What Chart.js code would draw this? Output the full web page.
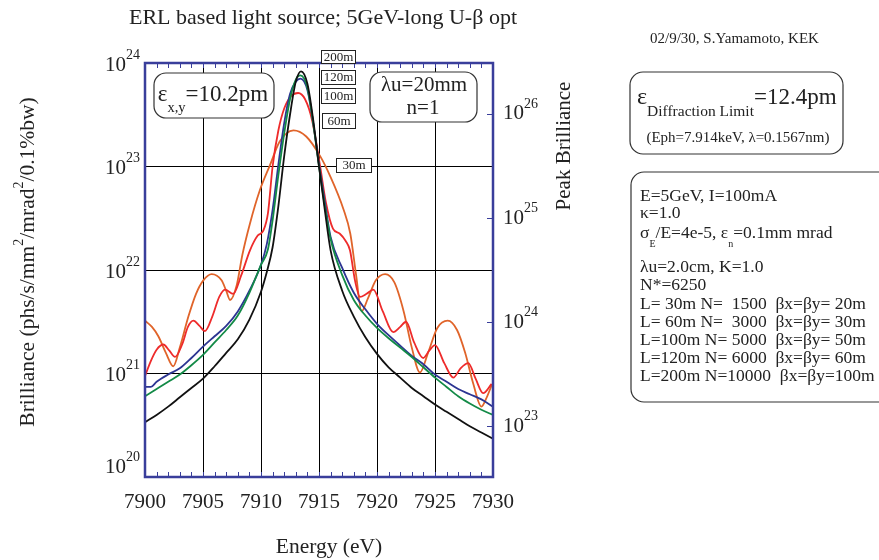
<!DOCTYPE html>
<html>
<head>
<meta charset="utf-8">
<script src="https://cdn.jsdelivr.net/npm/chart.js@4.4.0/dist/chart.umd.min.js"></script>
<style>
  html, body { margin: 0; padding: 0; background: #fff; }
  canvas { display: block; }
</style>
</head>
<body>
<canvas id="chart" width="879" height="560"></canvas>
<script>
// photon energy (eV) and log10(brilliance)
const e200 = [7900, 7901, 7902, 7903, 7904, 7905, 7906, 7907, 7908, 7909, 7910, 7910.5, 7911, 7911.5, 7912, 7912.5, 7913, 7913.45, 7914, 7914.5, 7915, 7915.5, 7916, 7917, 7918, 7919, 7920, 7921, 7922, 7923, 7924, 7925, 7926, 7927, 7928, 7929, 7930];
const b200 = [20.53, 20.60, 20.68, 20.77, 20.86, 20.95, 21.07, 21.20, 21.33, 21.52, 21.79, 21.98, 22.22, 22.62, 23.10, 23.50, 23.82, 23.92, 23.80, 23.45, 23.00, 22.58, 22.19, 21.80, 21.55, 21.35, 21.19, 21.06, 20.96, 20.86, 20.78, 20.70, 20.63, 20.56, 20.49, 20.43, 20.37];

const e120 = [7900, 7901, 7902, 7903, 7904, 7905, 7906, 7907, 7908, 7909, 7910, 7910.6, 7911, 7911.5, 7912, 7912.5, 7913, 7913.4, 7914, 7914.5, 7915, 7915.5, 7916, 7917, 7918, 7919, 7920, 7921, 7922, 7923, 7924, 7925, 7926, 7927, 7928, 7929, 7930];
const b120 = [20.78, 20.85, 20.92, 20.99, 21.08, 21.18, 21.30, 21.42, 21.56, 21.78, 22.05, 22.20, 22.48, 22.92, 23.32, 23.65, 23.84, 23.88, 23.76, 23.42, 23.00, 22.62, 22.30, 21.95, 21.71, 21.56, 21.44, 21.34, 21.25, 21.16, 21.06, 20.96, 20.87, 20.78, 20.71, 20.65, 20.60];

const e100 = [7900, 7900.5, 7901, 7902, 7903, 7904, 7905, 7906, 7907, 7908, 7909, 7910, 7910.5, 7911, 7911.5, 7912, 7912.5, 7913, 7913.4, 7914, 7914.5, 7915, 7915.5, 7916, 7917, 7918, 7919, 7920, 7921, 7922, 7923, 7924, 7925, 7926, 7927, 7928, 7929, 7930];
const b100 = [20.87, 20.87, 20.92, 20.99, 21.05, 21.15, 21.26, 21.36, 21.46, 21.60, 21.80, 22.05, 22.25, 22.58, 23.02, 23.42, 23.70, 23.82, 23.85, 23.74, 23.42, 23.02, 22.66, 22.32, 22.02, 21.78, 21.62, 21.48, 21.37, 21.27, 21.17, 21.09, 20.99, 20.92, 20.85, 20.80, 20.75, 20.68];

const e60 = [7900, 7900.5, 7901, 7901.58, 7902.1, 7902.59, 7903.2, 7903.7, 7904.17, 7904.7, 7905.17, 7905.8, 7906.4, 7906.9, 7907.6, 7908.3, 7909.05, 7909.7, 7910.2, 7910.6, 7911, 7911.5, 7912, 7912.6, 7913.2, 7913.8, 7914.4, 7915.1, 7915.6, 7916.2, 7916.8, 7917.3, 7917.67, 7918.1, 7918.53, 7919.1, 7919.68, 7920.5, 7921.4, 7922, 7922.5, 7923.2, 7923.98, 7924.5, 7925, 7925.8, 7926.58, 7927.2, 7927.87, 7928.5, 7929.15, 7929.88];
const b60 = [20.975, 21.12, 21.23, 21.28, 21.22, 21.16, 21.28, 21.45, 21.51, 21.46, 21.41, 21.55, 21.74, 21.81, 21.77, 21.95, 22.19, 22.33, 22.38, 22.55, 23.00, 23.35, 23.56, 23.68, 23.71, 23.65, 23.45, 23.00, 22.65, 22.40, 22.35, 22.28, 22.19, 21.90, 21.74, 21.77, 21.81, 21.60, 21.40, 21.45, 21.50, 21.30, 21.15, 21.22, 21.275, 21.10, 20.96, 21.05, 21.10, 20.95, 20.81, 20.90];

const e30 = [7900, 7900.6, 7901.15, 7901.8, 7902.44, 7903, 7903.74, 7904.4, 7905.03, 7905.75, 7906.6, 7907, 7907.33, 7907.9, 7908.4, 7909.05, 7909.9, 7910.8, 7911.6, 7912.8, 7913.9, 7915.1, 7915.95, 7917.1, 7917.7, 7918.2, 7918.67, 7919.2, 7919.9, 7920.7, 7921.5, 7922.3, 7923, 7923.7, 7924.4, 7925.2, 7926.1, 7926.9, 7927.6, 7928.3, 7929, 7929.5, 7929.9];
const b30 = [21.51, 21.45, 21.36, 21.20, 21.07, 21.25, 21.55, 21.77, 21.90, 21.96, 21.90, 21.80, 21.71, 21.85, 22.15, 22.45, 22.77, 23.02, 23.24, 23.35, 23.29, 23.10, 22.91, 22.59, 22.35, 21.95, 21.60, 21.72, 21.90, 21.96, 21.88, 21.60, 21.25, 21.01, 21.20, 21.44, 21.51, 21.42, 21.20, 20.90, 20.68, 20.78, 20.89];

const lengthLabels = ['200m', '120m', '100m', '60m', '30m'];
const energyTicks = [7900, 7905, 7910, 7915, 7920, 7925, 7930];
const brillianceTicks = [1e20, 1e21, 1e22, 1e23, 1e24];
const peakTicks = [1e23, 1e24, 1e25, 1e26];

const FONT = '"Liberation Serif", "Times New Roman", serif';
const FRAME = '#393e9b';

const series = [
  { e: e200, b: b200, color: '#111111' },
  { e: e120, b: b120, color: '#138a47' },
  { e: e100, b: b100, color: '#2c3592' },
  { e: e60, b: b60, color: '#ee2b2b' },
  { e: e30, b: b30, color: '#e0642a' }
];

// text made of pieces: [text, size, dy]
function rich(ctx, parts, x, y, align) {
  let w = 0;
  parts.forEach(p => { ctx.font = p[1] + 'px ' + FONT; w += ctx.measureText(p[0]).width; });
  let cx = align === 'center' ? x - w / 2 : (align === 'right' ? x - w : x);
  ctx.textAlign = 'left';
  ctx.textBaseline = 'middle';
  parts.forEach(p => {
    ctx.font = p[1] + 'px ' + FONT;
    ctx.fillText(p[0], cx, y + (p[2] || 0));
    cx += ctx.measureText(p[0]).width;
  });
}

function roundBox(ctx, x0, y0, x1, y1, r) {
  ctx.beginPath();
  ctx.moveTo(x0 + r, y0);
  ctx.arcTo(x1, y0, x1, y1, r);
  ctx.arcTo(x1, y1, x0, y1, r);
  ctx.arcTo(x0, y1, x0, y0, r);
  ctx.arcTo(x0, y0, x1, y0, r);
  ctx.closePath();
  ctx.fillStyle = '#fff';
  ctx.fill();
  ctx.strokeStyle = '#333';
  ctx.lineWidth = 1.2;
  ctx.stroke();
}

function tagBox(ctx, text, x0, y0, x1, y1) {
  ctx.fillStyle = '#fff';
  ctx.fillRect(x0, y0, x1 - x0, y1 - y0);
  ctx.strokeStyle = '#222';
  ctx.lineWidth = 1;
  ctx.strokeRect(x0 + 0.5, y0 + 0.5, x1 - x0, y1 - y0);
  ctx.fillStyle = '#222';
  ctx.font = '13px ' + FONT;
  ctx.textAlign = 'center';
  ctx.textBaseline = 'middle';
  ctx.fillText(text, (x0 + x1) / 2 + 0.5, (y0 + y1) / 2 + 1);
}

const decor = {
  id: 'decor',
  afterDraw(chart) {
    const { ctx, chartArea: a, scales } = chart;
    const x = scales.x, y = scales.y, y2 = scales.y2;
    ctx.save();

    // minor ticks along top and bottom, 1 eV apart
    ctx.strokeStyle = FRAME;
    ctx.lineWidth = 1;
    ctx.beginPath();
    for (let v = 7901; v < 7930; v++) {
      const px = Math.round(x.getPixelForValue(v)) + 0.5;
      ctx.moveTo(px, a.top); ctx.lineTo(px, a.top + 5);
      ctx.moveTo(px, a.bottom); ctx.lineTo(px, a.bottom - 5);
    }
    peakTicks.forEach(v => {
      const py = Math.round(y2.getPixelForValue(v)) + 0.5;
      ctx.moveTo(a.right - 6, py); ctx.lineTo(a.right, py);
    });
    ctx.stroke();

    ctx.lineWidth = 2.5;
    ctx.strokeRect(a.left, a.top, a.right - a.left, a.bottom - a.top);

    ctx.fillStyle = '#222';
    // left tick labels
    brillianceTicks.forEach(v => {
      let py = y.getPixelForValue(v) + 2;
      if (v === brillianceTicks[0]) py -= 12;
      rich(ctx, [['10', 21], [String(Math.round(Math.log10(v))), 14, -10]], 140, py, 'right');
    });
    // right tick labels
    peakTicks.forEach(v => {
      const py = y2.getPixelForValue(v);
      rich(ctx, [['10', 21], [String(Math.round(Math.log10(v))), 14, -10]], 503, py, 'left');
    });
    // bottom tick labels
    ctx.font = '21px ' + FONT;
    ctx.textAlign = 'center';
    ctx.textBaseline = 'middle';
    energyTicks.forEach(v => ctx.fillText(String(v), x.getPixelForValue(v), 502));

    // titles
    ctx.font = '21.5px ' + FONT;
    ctx.fillText('Energy (eV)', 329, 547);
    ctx.font = '22px ' + FONT;
    ctx.fillText('ERL based light source; 5GeV-long U-\u03b2 opt', 323, 18);
    ctx.save();
    ctx.translate(28, 262);
    ctx.rotate(-Math.PI / 2);
    rich(ctx, [['Brilliance (phs/s/mm', 21.5], ['2', 14, -9], ['/mrad', 21.5], ['2', 14, -9], ['/0.1%bw)', 21.5]], 0, 0, 'center');
    ctx.restore();
    ctx.save();
    ctx.translate(564, 146);
    ctx.rotate(-Math.PI / 2);
    ctx.font = '21px ' + FONT;
    ctx.textAlign = 'center';
    ctx.fillText('Peak Brilliance', 0, 0);
    ctx.restore();

    ctx.font = '15px ' + FONT;
    ctx.textAlign = 'left';
    ctx.fillText('02/9/30, S.Yamamoto, KEK', 650, 39);

    // boxes inside the plot
    roundBox(ctx, 154, 73, 274, 118, 12);
    ctx.fillStyle = '#222';
    rich(ctx, [['\u03b5', 23], ['x,y', 14.5, 13], ['=10.2pm', 23]], 213, 95, 'center');

    roundBox(ctx, 370, 72, 477, 122, 12);
    ctx.fillStyle = '#222';
    rich(ctx, [['\u03bbu=20mm', 21]], 424, 85, 'center');
    rich(ctx, [['n=1', 21]], 423, 108, 'center');

    const tags = [[321, 50, 355, 63], [321, 70, 355, 84], [321, 88, 355, 103], [322, 113, 355, 128], [336, 158, 371, 172]];
    lengthLabels.forEach((t, i) => tagBox(ctx, t, ...tags[i]));

    // diffraction limit box
    roundBox(ctx, 630, 72, 843, 154, 13);
    ctx.fillStyle = '#222';
    rich(ctx, [['\u03b5', 24], ['Diffraction Limit', 15.5, 14], ['=12.4pm', 23]], 637, 98, 'left');
    rich(ctx, [['(Eph=7.914keV, \u03bb=0.1567nm)', 15]], 738, 138, 'center');

    // parameter box
    roundBox(ctx, 631, 172, 895, 402, 13);
    ctx.fillStyle = '#222';
    const lx = 640, fs = 17.5;
    rich(ctx, [['E=5GeV, I=100mA', fs]], lx, 196, 'left');
    rich(ctx, [['\u03ba=1.0', fs]], lx, 213, 'left');
    rich(ctx, [['\u03c3', fs], ['E', 10, 11], ['/E=4e-5, \u03b5', fs], ['n', 10, 11], ['=0.1mm mrad', fs]], lx, 233, 'left');
    rich(ctx, [['\u03bbu=2.0cm, K=1.0', fs]], lx, 267, 'left');
    rich(ctx, [['N*=6250', fs]], lx, 285, 'left');
    const rows = [
      'L= 30m N=  1500  \u03b2x=\u03b2y= 20m',
      'L= 60m N=  3000  \u03b2x=\u03b2y= 30m',
      'L=100m N= 5000  \u03b2x=\u03b2y= 50m',
      'L=120m N= 6000  \u03b2x=\u03b2y= 60m',
      'L=200m N=10000  \u03b2x=\u03b2y=100m'
    ];
    rows.forEach((r, i) => rich(ctx, [[r, fs]], lx, 304 + i * 18.2, 'left'));

    ctx.restore();
  }
};

new Chart(document.getElementById('chart'), {
  type: 'line',
  data: {
    datasets: series.map(s => ({
      data: s.e.map((v, i) => ({ x: v, y: Math.pow(10, s.b[i]) })),
      borderColor: s.color,
      borderWidth: 1.8,
      pointRadius: 0,
      fill: false,
      cubicInterpolationMode: 'monotone'
    }))
  },
  options: {
    responsive: false,
    animation: false,
    devicePixelRatio: 1,
    layout: { padding: { left: 145, right: 386, top: 63, bottom: 83 } },
    plugins: { legend: { display: false }, tooltip: { enabled: false } },
    scales: {
      x: {
        type: 'linear', min: 7900, max: 7930,
        afterBuildTicks: s => { s.ticks = energyTicks.map(v => ({ value: v })); },
        ticks: { display: false },
        grid: { color: '#000', lineWidth: 1, drawTicks: false },
        border: { display: false }
      },
      y: {
        type: 'logarithmic', min: 1e20, max: 1e24,
        afterBuildTicks: s => { s.ticks = brillianceTicks.map(v => ({ value: v })); },
        ticks: { display: false },
        grid: { color: '#000', lineWidth: 1, drawTicks: false },
        border: { display: false }
      },
      y2: {
        type: 'logarithmic', position: 'right',
        min: Math.pow(10, 22.51), max: Math.pow(10, 26.49),
        afterBuildTicks: s => { s.ticks = peakTicks.map(v => ({ value: v })); },
        ticks: { display: false },
        grid: { display: false, drawTicks: false },
        border: { display: false }
      }
    }
  },
  plugins: [decor]
});
</script>
</body>
</html>
